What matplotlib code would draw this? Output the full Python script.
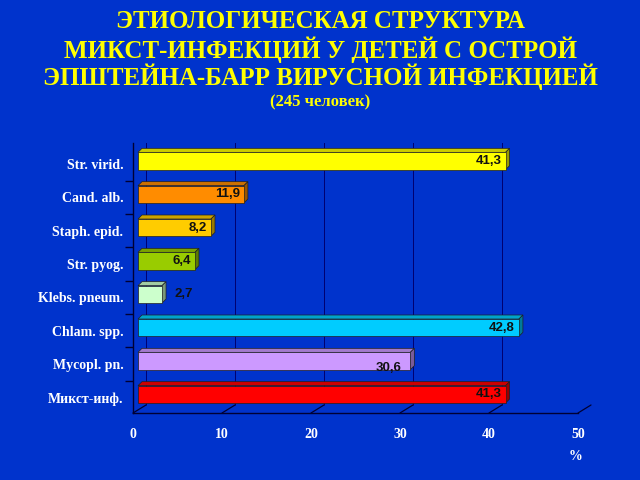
import matplotlib
matplotlib.use("Agg")
import matplotlib.pyplot as plt
from matplotlib.patches import Polygon
from matplotlib.transforms import IdentityTransform, offset_copy
from matplotlib.colors import to_rgb

# ---- data ----
categories = ["Str. virid.", "Cand. alb.", "Staph. epid.", "Str. pyog.",
              "Klebs. pneum.", "Chlam. spp.", "Mycopl. pn.", "Микст-инф."]
values = [41.3, 11.9, 8.2, 6.4, 2.7, 42.8, 30.6, 41.3]
value_labels = ["41,3", "11,9", "8,2", "6,4", "2,7", "42,8", "30,6", "41,3"]
bar_colors = ["#FFFF00", "#FF8C00", "#FFCC00", "#99CC00",
              "#CCFFCC", "#00CCFF", "#CC99FF", "#FF0000"]
x_ticks = [0, 10, 20, 30, 40, 50]
title_lines = ["ЭТИОЛОГИЧЕСКАЯ СТРУКТУРА",
               "МИКСТ-ИНФЕКЦИЙ У ДЕТЕЙ С ОСТРОЙ",
               "ЭПШТЕЙНА-БАРР ВИРУСНОЙ ИНФЕКЦИЕЙ"]
subtitle = "(245 человек)"
unit = "%"

BG = "#0033CC"
LINE = "#000033"
GRID = "#000070"
SERIF = "Liberation Serif"
SANS = "Liberation Sans"

BAR_H = 0.52
BAR_OFF = (5, 3)      # bar plane vs. front plane, pixels
DEPTH = (4, 4)        # bar thickness, pixels
WALL = (13, 8)        # front plane -> back wall, pixels

fig = plt.figure(figsize=(6.4, 4.8), dpi=100, facecolor=BG)
ax = fig.add_axes([133 / 640, 67 / 480, 445 / 640, 270 / 480])
ax.patch.set_visible(False)
ax.set_xlim(0, 50)
ylo, yhi = 7.47, -0.63
ax.set_ylim(ylo, yhi)

for s in ("top", "right"):
    ax.spines[s].set_visible(False)
for s in ("left", "bottom"):
    ax.spines[s].set_color(LINE)
    ax.spines[s].set_linewidth(1.0)

# back wall gridlines
back = offset_copy(ax.transData, fig=fig, x=WALL[0], y=WALL[1], units="dots")
ax.vlines(x_ticks, yhi, ylo, transform=back, colors=GRID, lw=0.7, zorder=1)
# floor diagonals
for v in x_ticks:
    ax.annotate("", xy=(v, ylo), xytext=WALL, textcoords="offset pixels",
                arrowprops=dict(arrowstyle="-", color=LINE, lw=0.9,
                                shrinkA=0, shrinkB=0),
                annotation_clip=False)

ax.set_xticks(x_ticks, [str(v) for v in x_ticks])
ax.set_yticks(range(len(categories)), categories)
ax.set_yticks([i + 0.5 for i in range(len(categories) - 1)], minor=True)
ax.tick_params(axis="x", length=0, pad=11, colors="white", labelsize=10)
ax.tick_params(axis="y", which="major", length=0, pad=7, colors="white", labelsize=10)
ax.tick_params(axis="y", which="minor", length=6, width=1, color=LINE)
for lab in ax.get_xticklabels() + ax.get_yticklabels():
    lab.set_fontfamily(SERIF)
    lab.set_fontweight("bold")


def px(x, y, dx=0, dy=0):
    X, Y = ax.transData.transform((x, y))
    return (X + BAR_OFF[0] + dx, Y + BAR_OFF[1] + dy)


def shade(c, f):
    r, g, b = to_rgb(c)
    return (r * f, g * f, b * f)


label_shift = {6: (-9, -7)}
for i, (v, c, lab) in enumerate(zip(values, bar_colors, value_labels)):
    t, b = i - BAR_H / 2, i + BAR_H / 2
    front = [px(0, b), px(v, b), px(v, t), px(0, t)]
    top = [px(0, t), px(v, t), px(v, t, *DEPTH), px(0, t, *DEPTH)]
    side = [px(v, b), px(v, b, *DEPTH), px(v, t, *DEPTH), px(v, t)]
    for pts, col in ((top, shade(c, 0.8)), (side, shade(c, 0.6)), (front, c)):
        ax.add_patch(Polygon(pts, closed=True, facecolor=col, edgecolor="#202020",
                             lw=0.5, transform=IdentityTransform(),
                             clip_on=False, zorder=3))
    if v < 4:
        off, ha = (BAR_OFF[0] + DEPTH[0] + 8, BAR_OFF[1]), "left"
    else:
        sx, sy = label_shift.get(i, (-4, 0))
        off, ha = (BAR_OFF[0] + sx, BAR_OFF[1] + sy), "right"
    ax.annotate(lab, xy=(v, i), xytext=off, textcoords="offset pixels",
                ha=ha, va="center", fontsize=9.5, family=SANS, fontweight="bold",
                color="#111111", zorder=4, annotation_clip=False)

for k, line in enumerate(title_lines):
    fig.text(0.5, 1 - (22 + 27.5 * k) / 480, line, ha="center", va="center",
             color="#FFFF00", fontsize=18, fontweight="bold", family=SERIF)
fig.text(0.5, 1 - 102 / 480, subtitle, ha="center", va="center",
         color="#FFFF00", fontsize=12, fontweight="bold", family=SERIF)
fig.text(576 / 640, 1 - 456 / 480, unit, ha="center", va="center",
         color="white", fontsize=10, fontweight="bold", family=SERIF)

fig.savefig("out.png", dpi=100, facecolor=BG)
